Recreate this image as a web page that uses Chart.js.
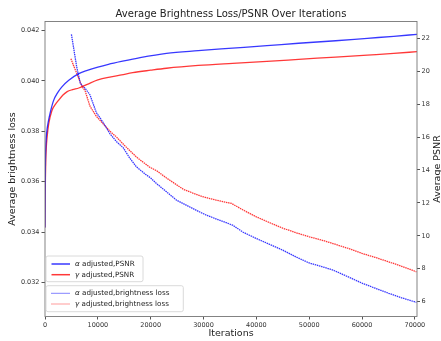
<!DOCTYPE html>
<html><head><meta charset="utf-8">
<script src="https://cdn.jsdelivr.net/npm/chart.js@4.4.0/dist/chart.umd.min.js"></script>
<style>html,body{margin:0;padding:0;background:#fff;}#wrap{width:441px;height:341px;}</style>
</head><body><div id="wrap"><canvas id="c" width="441" height="341"></canvas></div>
<script>
// ---- data ----
const xTicks = [0, 10000, 20000, 30000, 40000, 50000, 60000, 70000];
const lossTicks = [0.032, 0.034, 0.036, 0.038, 0.040, 0.042];
const psnrTicks = [6, 8, 10, 12, 14, 16, 18, 20, 22];

const alphaPsnrIter = [0, 30, 80, 150, 250, 400, 600, 1000, 1600, 2400, 3200, 4500, 6400, 8000, 10000, 12000, 14500, 18000, 23000, 29000, 35500, 42000, 48000, 55000, 61000, 66000, 70400];
const alphaPsnr     = [10.5, 12.8, 14.4, 15.4, 16.0, 16.5, 16.9, 17.5, 18.2, 18.7, 19.05, 19.45, 19.85, 20.05, 20.25, 20.42, 20.6, 20.83, 21.09, 21.25, 21.4, 21.55, 21.7, 21.85, 22.0, 22.12, 22.24];

const gammaPsnrIter = [0, 30, 80, 150, 250, 400, 700, 1300, 2000, 2600, 3400, 4200, 5200, 6400, 8000, 10000, 12500, 14500, 16600, 20000, 23000, 29000, 35500, 42000, 48000, 55000, 61000, 66000, 70400];
const gammaPsnr     = [10.5, 12.0, 13.5, 14.6, 15.4, 16.0, 16.8, 17.6, 18.0, 18.25, 18.55, 18.76, 18.88, 18.98, 19.2, 19.47, 19.66, 19.78, 19.91, 20.06, 20.18, 20.35, 20.48, 20.6, 20.72, 20.86, 20.98, 21.08, 21.19];

const alphaLossIter = [5000, 5500, 6000, 6700, 7600, 8500, 9700, 11000, 12300, 13500, 14800, 16000, 17300, 19000, 20000, 21100, 23000, 24900, 27400, 29300, 30600, 33000, 35500, 37500, 40000, 42500, 45000, 47500, 50000, 52500, 54500, 57500, 60000, 62500, 65000, 67500, 70300];
const alphaLoss     = [0.04184, 0.04120, 0.04055, 0.03989, 0.03970, 0.03945, 0.03875, 0.03835, 0.03790, 0.03760, 0.03735, 0.03695, 0.03659, 0.03630, 0.03615, 0.03593, 0.03560, 0.03527, 0.03500, 0.03480, 0.03467, 0.03448, 0.03428, 0.03400, 0.03375, 0.03352, 0.03329, 0.03302, 0.03278, 0.03263, 0.03250, 0.03222, 0.03198, 0.03178, 0.03158, 0.03140, 0.03122];

const gammaLossIter = [4900, 5400, 6000, 7000, 7600, 8500, 9700, 11000, 12300, 13500, 15000, 17300, 19800, 21100, 23000, 24900, 26200, 28000, 30000, 32400, 35300, 37500, 40000, 42500, 45000, 47500, 50000, 52500, 54500, 57500, 60000, 62500, 65000, 67500, 70300];
const gammaLoss     = [0.04088, 0.04061, 0.04030, 0.03978, 0.03960, 0.03900, 0.03860, 0.03830, 0.03800, 0.03778, 0.03745, 0.03698, 0.03658, 0.03644, 0.03615, 0.03588, 0.03570, 0.03555, 0.03540, 0.03527, 0.03514, 0.03488, 0.03461, 0.03438, 0.03416, 0.03398, 0.03382, 0.03368, 0.03355, 0.03335, 0.03316, 0.03300, 0.03283, 0.03265, 0.03243];

const labels = ['α adjusted,PSNR', 'γ adjusted,PSNR', 'α adjusted,brightness loss', 'γ adjusted,brightness loss'];
const chartTitle = 'Average Brightness Loss/PSNR Over Iterations';

const pts = (xs, ys) => xs.map((x, i) => ({x: x, y: ys[i]}));
const BLUE = 'rgba(0,0,255,0.78)', RED = 'rgba(255,0,0,0.78)';
const FONT = "'DejaVu Sans', sans-serif";
const DOT = [1.5, 0.7];

const deco = {
  id: 'deco',
  afterDraw(chart) {
    const ctx = chart.ctx, a = chart.chartArea;
    ctx.save();
    // frame
    ctx.strokeStyle = '#777'; ctx.lineWidth = 0.9;
    ctx.strokeRect(a.left, a.top, a.right - a.left, a.bottom - a.top);
    // title
    ctx.fillStyle = '#222'; ctx.font = '10px ' + FONT;
    ctx.textAlign = 'center'; ctx.textBaseline = 'middle';
    ctx.fillText(chartTitle, (a.left + a.right) / 2, 14);
    // right axis title
    ctx.save();
    ctx.translate(438, (a.top + a.bottom) / 2);
    ctx.rotate(-Math.PI / 2);
    ctx.font = '9.5px ' + FONT; ctx.fillStyle = '#222';
    ctx.fillText('Average PSNR', 0, 0);
    ctx.restore();
    // legends
    const ds = chart.data.datasets;
    const box = (x, y, w, h) => {
      ctx.fillStyle = 'rgba(255,255,255,0.85)'; ctx.strokeStyle = '#d0d0d0'; ctx.lineWidth = 0.8;
      ctx.beginPath(); ctx.roundRect(x, y, w, h, 2); ctx.fill(); ctx.stroke();
    };
    const entry = (d, y) => {
      ctx.strokeStyle = d.borderColor; ctx.lineWidth = d.borderDash ? 1.2 : 1.5;
      ctx.setLineDash(d.borderDash ? [1, 1] : []);
      ctx.beginPath(); ctx.moveTo(51.5, y); ctx.lineTo(70, y); ctx.stroke();
      ctx.setLineDash([]);
      ctx.fillStyle = '#222'; ctx.textAlign = 'left'; ctx.textBaseline = 'middle';
      ctx.font = 'italic 7.2px ' + FONT;
      const g = d.label.charAt(0), rest = d.label.slice(1);
      ctx.fillText(g, 75, y);
      const gw = ctx.measureText(g).width;
      ctx.font = '7.2px ' + FONT;
      ctx.fillText(rest, 75 + gw, y);
    };
    box(46, 256, 97, 25.7);
    entry(ds[0], 264); entry(ds[1], 274.7);
    box(46, 285.7, 137.3, 26);
    entry(ds[2], 293.3); entry(ds[3], 304);
    ctx.restore();
  }
};

const setTicks = arr => scale => { scale.ticks = arr.map(v => ({value: v})); };
const tickFont = {family: FONT, size: 6.5};

new Chart(document.getElementById('c'), {
  type: 'line',
  data: {
    datasets: [
      {label: labels[0], data: pts(alphaPsnrIter, alphaPsnr), yAxisID: 'y1', borderColor: BLUE, borderWidth: 1.3, pointRadius: 0, cubicInterpolationMode: 'monotone', fill: false},
      {label: labels[1], data: pts(gammaPsnrIter, gammaPsnr), yAxisID: 'y1', borderColor: RED, borderWidth: 1.3, pointRadius: 0, cubicInterpolationMode: 'monotone', fill: false},
      {label: labels[2], data: pts(alphaLossIter, alphaLoss), yAxisID: 'y', borderColor: BLUE, borderWidth: 1.3, borderDash: DOT, pointRadius: 0, tension: 0, fill: false},
      {label: labels[3], data: pts(gammaLossIter, gammaLoss), yAxisID: 'y', borderColor: RED, borderWidth: 1.3, borderDash: DOT, pointRadius: 0, tension: 0, fill: false}
    ]
  },
  options: {
    responsive: false, animation: false, devicePixelRatio: 1,
    layout: {padding: {top: 21.5, left: 0, right: 0, bottom: 0}},
    plugins: {legend: {display: false}, title: {display: false}, tooltip: {enabled: false}},
    scales: {
      x: {
        type: 'linear', position: 'bottom', min: 0, max: 70400,
        afterBuildTicks: setTicks(xTicks),
        afterFit: s => { s.height = 24.5; },
        ticks: {font: tickFont, color: '#333', padding: 1.5, maxRotation: 0, autoSkip: false, callback: v => String(v)},
        grid: {drawOnChartArea: false, drawTicks: true, tickLength: 3, tickColor: '#555'},
        border: {display: false},
        title: {display: true, text: 'Iterations', font: {family: FONT, size: 9.5}, color: '#222', padding: {top: 0, bottom: 1.3}}
      },
      y: {
        type: 'linear', position: 'left', min: 0.030659, max: 0.042353,
        afterBuildTicks: setTicks(lossTicks),
        afterFit: s => { s.width = 45; },
        ticks: {font: tickFont, color: '#333', padding: 2, callback: v => v.toFixed(3)},
        grid: {drawOnChartArea: false, drawTicks: true, tickLength: 3.5, tickColor: '#555'},
        border: {display: false},
        title: {display: true, text: 'Average brightness loss', font: {family: FONT, size: 9.5}, color: '#222', padding: {top: 7, bottom: 0}}
      },
      y1: {
        type: 'linear', position: 'right', min: 5.10, max: 23.02,
        afterBuildTicks: setTicks(psnrTicks),
        afterFit: s => { s.width = 24; },
        ticks: {font: tickFont, color: '#333', padding: 1.5, callback: v => String(v)},
        grid: {drawOnChartArea: false, drawTicks: true, tickLength: 3, tickColor: '#555'},
        border: {display: false},
        title: {display: false}
      }
    }
  },
  plugins: [deco]
});
</script></body></html>
